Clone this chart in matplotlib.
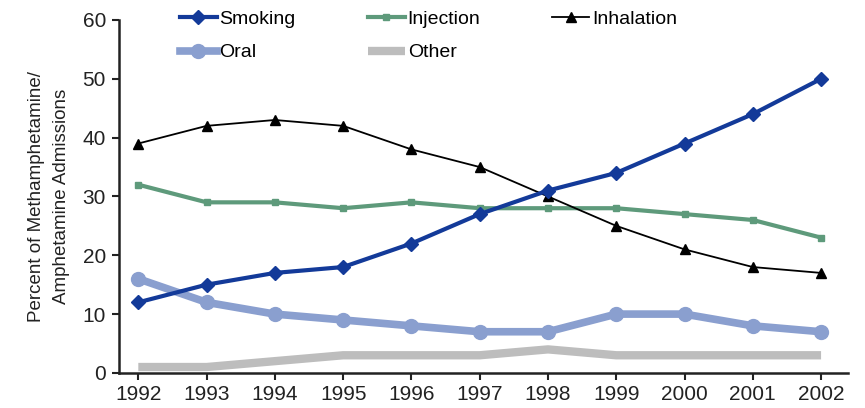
import matplotlib
matplotlib.use('Agg')
from matplotlib import pyplot as plt

years = [1992, 1993, 1994, 1995, 1996, 1997, 1998, 1999, 2000, 2001, 2002]
smoking = [12, 15, 17, 18, 22, 27, 31, 34, 39, 44, 50]
injection = [32, 29, 29, 28, 29, 28, 28, 28, 27, 26, 23]
inhalation = [39, 42, 43, 42, 38, 35, 30, 25, 21, 18, 17]
oral = [16, 12, 10, 9, 8, 7, 7, 10, 10, 8, 7]
other = [1, 1, 2, 3, 3, 3, 4, 3, 3, 3, 3]

plt.rcParams['font.family'] = ['Liberation Sans', 'DejaVu Sans']

fig = plt.figure(figsize=(8.65, 4.08), dpi=100)
ax = fig.add_axes([0.137, 0.086, 0.843, 0.865])

# thick light lines go underneath
ax.plot(years, other, color='#bdbdbd', lw=6, solid_capstyle='butt', label='Other', zorder=1)
ax.plot(years, oral, color='#8a9fcf', lw=5.5, marker='o', ms=10, label='Oral', zorder=2)
ax.plot(years, injection, color='#5e9a7b', lw=3, marker='s', ms=5, label='Injection', zorder=3)
ax.plot(years, inhalation, color='black', lw=1.3, marker='^', ms=7, label='Inhalation', zorder=4)
ax.plot(years, smoking, color='#133a99', lw=3, marker='D', ms=7, label='Smoking', zorder=5)

ax.set_xlim(1991.71, 2002.39)
ax.set_ylim(0, 60)
ax.set_xticks(years)
ax.set_yticks(range(0, 61, 10))
ax.tick_params(labelsize=15, direction='out', length=5, width=1.5, colors='#222222', pad=4)
for s in ['top', 'right']:
    ax.spines[s].set_visible(False)
for s in ['left', 'bottom']:
    ax.spines[s].set_linewidth(1.8)
    ax.spines[s].set_color('#222222')

ax.set_ylabel('Percent of Methamphetamine/\nAmphetamine Admissions', fontsize=13.5,
              color='#222222', labelpad=9, linespacing=1.6)

h, l = ax.get_legend_handles_labels()
# columns: Smoking/Oral, Injection/Other, Inhalation
handles = [h[4], h[1], h[2], h[0], h[3]]
labels = ['Smoking', 'Oral', 'Injection', 'Other', 'Inhalation']
ax.legend(handles, labels, ncol=3, loc='upper left', bbox_to_anchor=(0.06, 1.076),
          frameon=False, fontsize=14, handlelength=1.9, handletextpad=0.15,
          columnspacing=3.7, labelspacing=0.8)

plt.savefig('out.png', dpi=100)
plt.close()
